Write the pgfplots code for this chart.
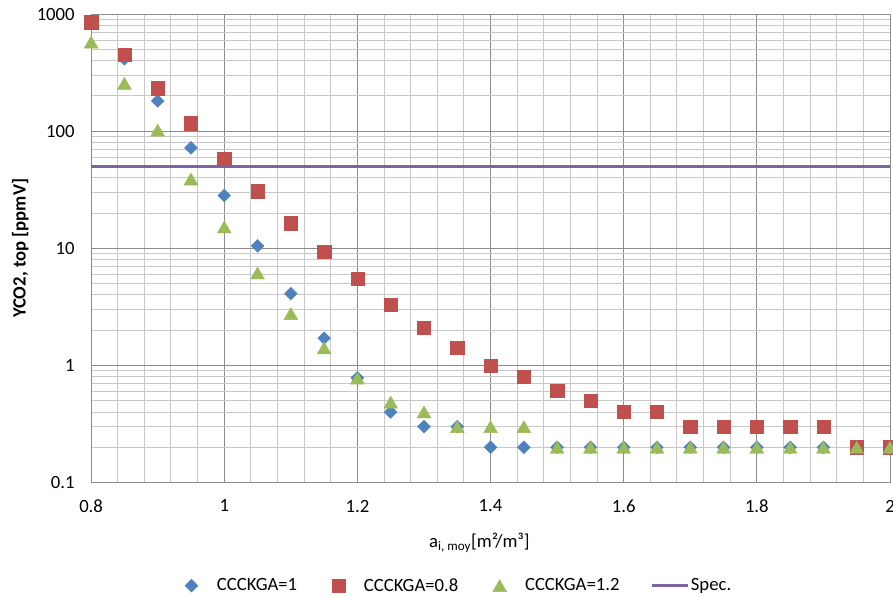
\documentclass[border=0pt]{standalone}
\usepackage{fontspec}
\setmainfont{Carlito}
\usepackage{pgfplots}
\pgfplotsset{compat=1.18}
\definecolor{c1}{HTML}{4F81BD}
\definecolor{c2}{HTML}{C0504D}
\definecolor{c3}{HTML}{9BBB59}
\definecolor{c4}{HTML}{8064A2}
\definecolor{gmaj}{RGB}{140,140,140}
\definecolor{gmin}{RGB}{200,200,200}
\newcommand{\fs}{\fontsize{14}{16.8}\selectfont}
\pgfplotsset{
  marklegend/.style={legend image code/.code={%
    \path[draw=none,fill=none] (0pt,-1pt) rectangle (26pt,1pt);
    \draw[only marks] plot coordinates {(8pt,0pt)};}},
}
\begin{document}
\begin{tikzpicture}
\begin{axis}[
  scale only axis, width=598.5pt, height=351pt,
  ymode=log, log basis y=10,
  xmin=0.8, xmax=2, ymin=0.1, ymax=1000,
  xtick={0.8,1,1.2,1.4,1.6,1.8,2},
  xticklabels={0.8,1,1.2,1.4,1.6,1.8,2},
  minor x tick num=4,
  ytick={0.1,1,10,100,1000},
  yticklabels={0.1,1,10,100,1000},
  minor ytick={0.2,0.3,0.4,0.5,0.6,0.7,0.8,0.9,2,3,4,5,6,7,8,9,20,30,40,50,60,70,80,90,200,300,400,500,600,700,800,900},
  /pgf/number format/assume math mode=true,
  grid=both,
  major grid style={gmaj, line width=0.75pt},
  minor grid style={gmin, line width=0.75pt},
  major tick length=0pt, minor tick length=0pt,
  axis line style={gmaj, line width=0.75pt},
  tick label style={font=\fs},
  xticklabel style={yshift=-9.5pt},
  yticklabel style={xshift=-8.8pt},
  xlabel={a\textsubscript{i, moy}[m²/m³]},
  ylabel={YCO2, top [ppmV]},
  xlabel style={font=\fs, at={(axis description cs:0.486,-0.128)}, anchor=center},
  ylabel style={font=\fs\bfseries, at={(axis description cs:-0.0886,0.5)}, anchor=center},
  legend style={draw=none, fill=none, inner sep=0pt, font=\fs,
    at={(axis description cs:0.1120,-0.22)}, anchor=west,
    nodes={inner xsep=1pt},
    /tikz/every even column/.append style={column sep=22pt}},
  legend columns=4,
  legend cell align=left,
  clip=false,
]
\addplot[only marks, mark=square*, mark size=3.4pt, mark options={rotate=45, fill=c1, draw=c1, line width=0.3pt}, marklegend]
coordinates {
(0.80,830) (0.85,415) (0.90,181) (0.95,72) (1.00,28.2) (1.05,10.5) (1.10,4.1) (1.15,1.71) (1.20,0.785) (1.25,0.40)
(1.30,0.3) (1.35,0.3) (1.40,0.2) (1.45,0.2) (1.50,0.2) (1.55,0.2) (1.60,0.2) (1.65,0.2) (1.70,0.2) (1.75,0.2)
(1.80,0.2) (1.85,0.2) (1.90,0.2) (1.95,0.2) (2.00,0.2)
};
\addlegendentry{CCCKGA=1}
\addplot[only marks, mark=square*, mark size=5pt, mark options={fill=c2, draw=c2, line width=0.3pt}, marklegend]
coordinates {
(0.80,850) (0.85,452) (0.90,232) (0.95,117) (1.00,58.5) (1.05,30.7) (1.10,16.4) (1.15,9.3) (1.20,5.5) (1.25,3.3)
(1.30,2.1) (1.35,1.42) (1.40,1.0) (1.45,0.8) (1.50,0.61) (1.55,0.5) (1.60,0.4) (1.65,0.4) (1.70,0.3) (1.75,0.3)
(1.80,0.3) (1.85,0.3) (1.90,0.3) (1.95,0.2) (2.00,0.2)
};
\addlegendentry{CCCKGA=0.8}
\addplot[only marks, mark=triangle*, mark size=6pt, mark options={fill=c3, draw=c3, line width=0.3pt, yshift=-1.5pt}, marklegend]
coordinates {
(0.80,576) (0.85,256) (0.90,102) (0.95,39) (1.00,15.2) (1.05,6.15) (1.10,2.77) (1.15,1.41) (1.20,0.78) (1.25,0.485)
(1.30,0.4) (1.35,0.3) (1.40,0.3) (1.45,0.3) (1.50,0.2) (1.55,0.2) (1.60,0.2) (1.65,0.2) (1.70,0.2) (1.75,0.2)
(1.80,0.2) (1.85,0.2) (1.90,0.2) (1.95,0.2) (2.00,0.2)
};
\addlegendentry{CCCKGA=1.2}
\addplot[c4, line width=2.5pt, no marks, legend image code/.code={\draw (0pt,0pt) -- (27pt,0pt);}]
coordinates {(0.8,50) (2.0,50)};
\addlegendentry{Spec.}
\coordinate (sw) at (rel axis cs:0,0);
\coordinate (ne) at (rel axis cs:1,1);
\end{axis}
\pgfresetboundingbox
\path ([shift={(-68.25pt,-85.5pt)}]sw) rectangle ([shift={(2.25pt,10.5pt)}]ne);
\end{tikzpicture}
\end{document}
